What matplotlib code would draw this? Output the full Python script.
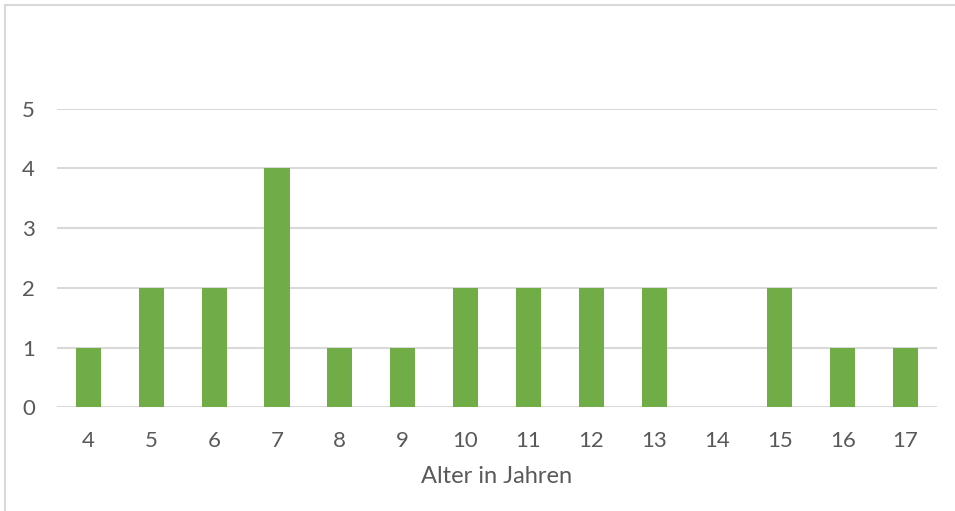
import matplotlib.pyplot as plt
from matplotlib.lines import Line2D

ages = ["4", "5", "6", "7", "8", "9", "10", "11", "12", "13", "14", "15", "16", "17"]
counts = [1, 2, 2, 4, 1, 1, 2, 2, 2, 2, 0, 2, 1, 1]
y_ticks = [0, 1, 2, 3, 4, 5]

BAR_COLOR = "#70ad47"
GRID_COLOR = "#d9d9d9"
TEXT_COLOR = "#595959"

W, H = 955, 511
fig = plt.figure(figsize=(W / 100, H / 100), dpi=100)
plt.rcParams["font.family"] = ["Lato", "DejaVu Sans"]

left, right, bottom, top = 57, 937, 407.3, 108.8
ax = fig.add_axes([left / W, 1 - bottom / H, (right - left) / W, (bottom - top) / H])

x = range(len(ages))
ax.bar(x, counts, width=0.4, color=BAR_COLOR, zorder=3)

ax.set_xlim(-0.5, len(ages) - 0.5)
ax.set_ylim(0, 5)
ax.set_yticks(y_ticks)
ax.set_xticks(list(x))
ax.set_xticklabels(ages)

for v in y_ticks:
    ax.axhline(v, color=GRID_COLOR, lw=1.5, zorder=1)

for s in ax.spines.values():
    s.set_visible(False)
ax.tick_params(length=0, labelsize=16, colors=TEXT_COLOR)
ax.tick_params(axis="x", pad=17)
ax.tick_params(axis="y", pad=16)
ax.set_xlabel("Alter in Jahren", fontsize=17, color=TEXT_COLOR, labelpad=11)

# chart frame (top and left edges)
fig.add_artist(Line2D([5 / W, 1], [1 - 5 / H, 1 - 5 / H], color=GRID_COLOR, lw=1.5,
                      transform=fig.transFigure))
fig.add_artist(Line2D([5 / W, 5 / W], [0, 1 - 5 / H], color=GRID_COLOR, lw=1.5,
                      transform=fig.transFigure))

fig.savefig("out.png", dpi=100)
